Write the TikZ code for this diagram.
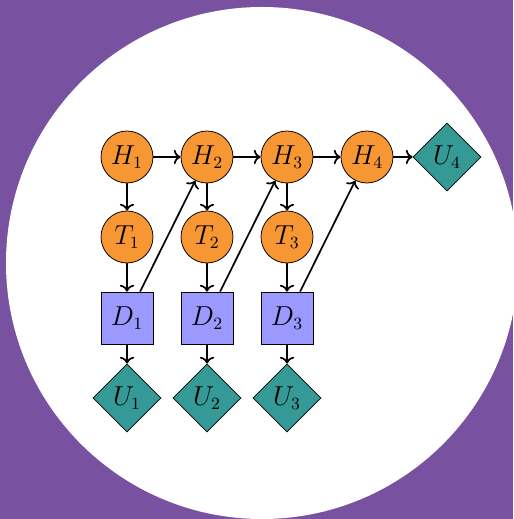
\documentclass[tikz,border=0pt]{standalone}
\usetikzlibrary{shapes.geometric,arrows.meta}
\definecolor{bgpurple}{RGB}{120,82,160}
\definecolor{nodeorange}{RGB}{247,151,51}
\definecolor{nodeteal}{RGB}{53,153,150}
\definecolor{nodeblue}{RGB}{153,153,255}
\begin{document}
\begin{tikzpicture}[x=0.525pt,y=-0.525pt,
  every node/.style={font=\fontsize{13.5}{16}\selectfont},
  chance/.style={circle,draw,fill=nodeorange,minimum size=27.3pt,inner sep=0pt},
  decision/.style={rectangle,draw,fill=nodeblue,minimum size=27.3pt,inner sep=0pt},
  utility/.style={diamond,aspect=1,draw,fill=nodeteal,minimum size=35.7pt,inner sep=0pt},
  link/.style={-{To[scale=1.0]},line width=0.9pt}]
\useasboundingbox (0,0) rectangle (513,519);
\fill[bgpurple] (0,0) rectangle (513,519);
\begin{scope}
\clip (0,0) rectangle (513,519);
\fill[white] (262,263) circle[radius=256];
\end{scope}
\node[chance] (H1) at (127,157) {$H_1$};
\node[chance] (H2) at (207,157) {$H_2$};
\node[chance] (H3) at (287,157) {$H_3$};
\node[chance] (H4) at (367,157) {$H_4$};
\node[utility] (U4) at (447,157) {$U_4$};
\node[chance] (T1) at (127,237) {$T_1$};
\node[chance] (T2) at (207,237) {$T_2$};
\node[chance] (T3) at (287,237) {$T_3$};
\node[decision] (D1) at (127,318) {$D_1$};
\node[decision] (D2) at (207,318) {$D_2$};
\node[decision] (D3) at (287,318) {$D_3$};
\node[utility] (U1) at (127,398) {$U_1$};
\node[utility] (U2) at (207,398) {$U_2$};
\node[utility] (U3) at (287,398) {$U_3$};
\draw[link] (H1) -- (H2);
\draw[link] (H2) -- (H3);
\draw[link] (H3) -- (H4);
\draw[link] (H4) -- (U4);
\draw[link] (H1) -- (T1);
\draw[link] (H2) -- (T2);
\draw[link] (H3) -- (T3);
\draw[link] (T1) -- (D1);
\draw[link] (T2) -- (D2);
\draw[link] (T3) -- (D3);
\draw[link] (D1) -- (U1);
\draw[link] (D2) -- (U2);
\draw[link] (D3) -- (U3);
\draw[link] (D1) -- (H2);
\draw[link] (D2) -- (H3);
\draw[link] (D3) -- (H4);
\end{tikzpicture}
\end{document}
